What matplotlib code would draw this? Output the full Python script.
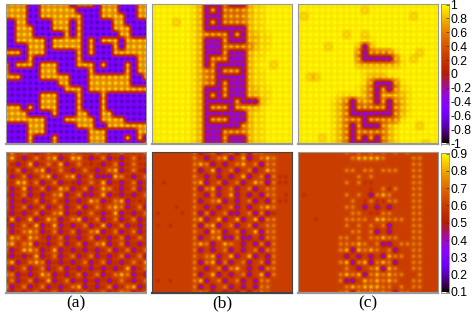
import numpy as np
import matplotlib
matplotlib.use('Agg')
import matplotlib.pyplot as plt
from matplotlib.colors import ListedColormap

# sites, one char per dot
top_a = [
"####..#####.###.###...##",
"####..######....###...##",
"####..#######...####..##",
"..##....###.#.....##....",
"..###...###.#.....###...",
"..###.....#.#......##...",
"..#####.#####.#.###.####",
"....###.#####.#...#.####",
"###.###.....#.#...######",
"....#.......#.........##",
"#.###.###...###.#...#.##",
"#.....###.....#.....#.##",
"###...#####...#######..#",
".........##...#######...",
"..........###.##########",
"......###...#...#.......",
"......###...#...#.......",
"###.#.###...#...#.......",
"####....#...##..##......",
"#######...#####.####....",
"....###.....###..#######",
"....###.......###.....##",
"....#...#.....###...#.#.",
"....#...#.....###......#",
]
top_b = [
"YYYYYYYho...-...ohhYYYYY",
"YYYYYYYho.-.----ohhYYYYY",
"YYYYYYYho...----ohhYYYYY",
"YYYYoYYho.-.----ohhYYYYY",
"YYYYYYYho.......ohhYYYYY",
"YYYYYYYho----.-.oohhYYYY",
"YYYYYYYho...-...oohhYYYY",
"YYYYYYYho...-----ohhYYYY",
"YYYYYYYho...-...ohhYYYYY",
"YYYYYYYho.---...ohhYYYYY",
"YYYYYYYho.-.....ohYYoYYY",
"YYYYYYYho--.---.ohhYYYYY",
"YYYYYYYho--.....ohhYYYYY",
"YYYYYYYho--.-...ohhYYYYY",
"YYYYYYYho...-...oohhYYYY",
"YYYYYYYho.-.-...oohhYYYY",
"YYYYYYYho.....-...ohYYYY",
"YYYYYYYho.---.-ooohYYYYY",
"YYYYYYYho.......ohhYYYYY",
"YYYYYYYho.---...ohhYYYYY",
"YYYYYYYho......-ohhYYYYY",
"YYYYYYYho...----ohhYYYYY",
"YYYYYYYho...-...ohhYYYYY",
"YYYYYYYho...-...ohhYYYYY",
]
top_c = [
"YYYYYYYYYYYYYYYYYYYYYYYY",
"YYYYYYYYYYYoYYYYYYYYYYYY",
"YoYYYYYYYYYYYYYYYYYoYYYY",
"YYYYYYYYYYYYYYYYYYYYYYYY",
"YYYYYYYYYYYYYYYYYYYYYYYY",
"YYYYYYYYoYYoYYYYYYYYYYYY",
"YYYYYYYYYYYhhYYYYYYYYYYY",
"YYYYYoYYYYo.oYYYYYYYYYYY",
"YYYYYYYYYY-.----hYYYoYYY",
"YYYYYYYYYY-.....-hYoYYYY",
"YYYYYYYYYYooooooohYYYYYY",
"YYYYYYYYYYYhhhhYYYYYYYYY",
"YYooYYYYYYYhooohhYYYYYYY",
"YYYYYYYYYYYh-...-hYYYYYY",
"YYYYYYYYYYho-.-.-hhYYYYY",
"YYYYYYYhhhYo-.oooohYYYYY",
"YYYYYYho-.-o-.-.-ohYYYYY",
"YYYYYYho-.-----.-ohYYYYY",
"YYYYYYho-.......-ohYYYYY",
"YYYYYYho---.-----hYYYYYY",
"YYYYYYho-.-...-ohYYYoYYY",
"YYYYYYho-.-----ohYYYYYYY",
"YYYYoYho-.-.-.-ohYYYYYYY",
"YYYYYYho-.....-ohYYYYoYY",
]
bot_a = [
"mymomPmomdmomdmomdmomdmo",
"oymPmomoyPmyymPmoPmPmodm",
"omPmyPmomyPmomdmPmoPmomd",
"mdoPmoyPmomPmomPmoyPmodP",
"oPmoPmoyPmoyPmoPPPyomPmo",
"mmyymoPmoPmdPmomyPmPmoPm",
"oPmyPmoPmyoPmoPmyomPmoPm",
"mPmoPmPmoyPmoPPmyPmPmPmo",
"oPmPmoPmomPmPmyoPmoyPmdm",
"oPmoPmoPmoPmoPmomoyoPmoP",
"mPmPmoPmoyPmPmomPmyPmPmo",
"PyPmyPmyoPmoyPmoPmoPmoPm",
"mPmomyPmyPmPmoPmyPmoPmPm",
"oPmoyoPmoPmoPmoyPmoPmoPm",
"myomyomPmoPmPmoPmPmoPmom",
"yymoyPmPmoPmoPmoyPmoPmPm",
"oPmyyoPmyPmPmPmPmoPmoPmo",
"mPmPmyPmoPmoPmoPmPmoPmoP",
"oyPmoyoPmPmPmoPmoPmPmomy",
"mPmoPmoPmoPmPmPmPmPmyPmo",
"yoPmPmyoPmPmoPmoPmoyoPmP",
"moPmoPmyPmoPmPmPmPmomPmo",
"yPmoPmoPmPmoyPmPmoPmoyPm",
"mPmPmoPmoPmPmoPmoPmyoPmo",
]
bot_b = [
"mmmmmmmoPmoPmoPoPoommmmm",
"mmmmmmmomPmoyPmyPmoyommm",
"mmmmmmmoyoPmPmoymoPoommm",
"mmmmmmmoPmyPmoPmoPmyommm",
"mmmmmmmomPmPmPmyPmoPoddm",
"dmdmmmmoyPmoPmoPmyoPoddm",
"mmmmmmmoPoyPmoPmoPmoommm",
"mmmmmmmomPoPmyPmPmPoomdm",
"mmmmmmmoPmoyPmPmoPmPoddm",
"mmmmdmmomPmPmoPmPmoyommm",
"mdmmmdmoPoPmoPPmoPoPdmmm",
"mmmmmmmoyPmyPmyPmyPoommm",
"mdmdmmmoPoyPmoPmoPmoommm",
"mmmmmmmomPyoPmoPmyPoommm",
"mmmmmmmoPmoyPPoPPmPoommm",
"mmmmmmmoyoPmyomPmPoPommm",
"mmmmmmmoPmPmoPmPmoPoommm",
"mmmmmmmomoyPmyPmyPmPommm",
"mmmmmmmoPoyPoPmoPmoPommm",
"mmmmmmmomPmoPoymPmPoommm",
"mmmmmmmoPmyPmPmoPmyPommm",
"mdmdmmmoyPmoPmoPmPoommmm",
"mmmmmmmoPmPmoPmPmPoommmm",
"mmmmmmmoyoPmPmPoPoyommmm",
]
bot_c = [
"mmmmmmmmomomomomomommmmm",
"mmmmmmmmmoyyyyommmmoommm",
"mmmmmmmmmmmmmmmmmmmoommm",
"mmmmmmmmoomoomooommoommm",
"mmmmmmmmmmomommmmmmoommm",
"mmmmmmmmomoddmmmmmmoommm",
"mmmmmmmmmmmmdmodommoommm",
"mdmmmmmmomomPoyommmoommm",
"mmmmmmmmmomdoddoommoommm",
"mmmmmmmmoomPmPmPmmmoommm",
"mmmmmmmmmoomddoommmoommm",
"mmmdmmmmoooomyyooomoommm",
"mmmmmmmmomomomoPmmmoommm",
"mmmmmmmmmoomoPmPmmmoommm",
"mmmmmmmoomomooyoommoommm",
"mmmmmmmoooyomoPPmoooommm",
"mmmmmmmoyPyoyomoPmmoommm",
"mmmmmmmmPmPmPmPyoomoommm",
"mmmmmmmoyPoyPoyoPmmoommm",
"mmmmmmmmomPmoyPyommoommm",
"mmmmmmmoyoyPoyoyoommommm",
"mmmmmmmoPPmyoyoyommoommm",
"mmmmmmmmoyoyyyoomomoommm",
"mmmmmmmoyPyoyoyoPoommmmm",
]

# spot value, value between spots
top_codes = {
    '#': (0.92, 0.58), '.': (-0.82, -0.48),
}
top_codes_bc = {
    'Y': (1.0, 0.92), 'h': (0.98, 0.84), 'o': (0.92, 0.7),
    '-': (0.84, 0.4), '.': (-0.48, -0.12),
}
bot_codes_a = {
    'm': (0.54, 0.6), 'd': (0.5, 0.6), 'o': (0.74, 0.61),
    'y': (0.84, 0.64), 'P': (0.28, 0.56),
}
bot_codes_bc = {
    'm': (0.6, 0.6), 'd': (0.54, 0.6), 'o': (0.74, 0.61),
    'y': (0.84, 0.64), 'P': (0.28, 0.56),
}

top_ticks = [1, 0.8, 0.6, 0.4, 0.2, 0, -0.2, -0.4, -0.6, -0.8, -1]
bot_ticks = [0.9, 0.8, 0.7, 0.6, 0.5, 0.4, 0.3, 0.2, 0.1]
panel_labels = ['(a)', '(b)', '(c)']

W = 477.
H = 313.

# gnuplot default palette 7,5,15
x = np.linspace(0, 1, 256)
cols = np.c_[np.sqrt(x), x**3, np.clip(np.sin(2*np.pi*x), 0, 1)]
cm = ListedColormap(cols)

# pixels between two dots, and the blob laid on each dot
STEP = 6
t = np.arange(-12, 13)
tri = np.clip(1 - np.abs(t)/float(STEP), 0, 1)
gau = np.exp(-t**2 / (2*1.45**2))


def smear(a, k):
    a = np.apply_along_axis(lambda v: np.convolve(v, k, mode='same'), 0, a)
    a = np.apply_along_axis(lambda v: np.convolve(v, k, mode='same'), 1, a)
    return a


def make_img(rows, codes):
    n = len(rows)
    spot = np.array([[codes[c][0] for c in r] for r in rows])
    back = np.array([[codes[c][1] for c in r] for r in rows])
    m = (n-1)*STEP + 1
    b = np.zeros((m, m))
    d = np.zeros((m, m))
    b[::STEP, ::STEP] = back
    d[::STEP, ::STEP] = spot - back
    # edge rows only get half the triangle, so scale with the same smear of ones
    w = np.zeros((m, m))
    w[::STEP, ::STEP] = 1
    return smear(b, tri) / smear(w, tri) + smear(d, gau)


def px_axes(x0, y0, x1, y1):
    return fig.add_axes([x0/W, 1-y1/H, (x1-x0)/W, (y1-y0)/H])


fig = plt.figure(figsize=(4.77, 3.13), dpi=100)

xs = [(6, 146), (152, 292), (298, 438)]
panels = [
    (top_a, top_codes, 4, 144, -1, 1, '#999999'),
    (top_b, top_codes_bc, 4, 144, -1, 1, '#999999'),
    (top_c, top_codes_bc, 4, 144, -1, 1, '#999999'),
    (bot_a, bot_codes_a, 152, 293, 0.1, 0.9, '#999999'),
    (bot_b, bot_codes_bc, 152, 293, 0.1, 0.9, '#444444'),
    (bot_c, bot_codes_bc, 152, 293, 0.1, 0.9, '#999999'),
]

for i, p in enumerate(panels):
    rows, codes, y0, y1, vmin, vmax, ec = p
    x0, x1 = xs[i % 3]
    ax = px_axes(x0, y0, x1, y1)
    ax.imshow(make_img(rows, codes), cmap=cm, vmin=vmin, vmax=vmax,
              extent=(-0.5/STEP, 23+0.5/STEP, 23+0.5/STEP, -0.5/STEP),
              interpolation='bilinear', aspect='auto')
    ax.set_xlim(0, 23)
    ax.set_ylim(23, 0)
    ax.set_xticks([])
    ax.set_yticks([])
    for s in ax.spines.values():
        s.set_color(ec)
        s.set_linewidth(0.8)
    ax.spines['bottom'].set_linewidth(1.6)
    if i >= 3:
        fig.text((x0+x1)/2/W, 1-303/H, panel_labels[i-3], family='Liberation Serif',
                 fontsize=12.5, ha='center', va='center')

# colour bars
for y0, y1, vmin, vmax, ticks in [(3.5, 144.5, -1, 1, top_ticks), (152.5, 293, 0.1, 0.9, bot_ticks)]:
    cax = px_axes(441, y0, 449, y1)
    grad = np.linspace(vmax, vmin, 256).reshape(-1, 1)
    cax.imshow(grad, cmap=cm, vmin=vmin, vmax=vmax, aspect='auto',
               extent=(0, 1, vmin, vmax))
    cax.set_xticks([])
    cax.yaxis.tick_right()
    cax.set_yticks(ticks)
    cax.set_yticklabels(['%g' % t for t in ticks], family='Liberation Sans', fontsize=8.8)
    cax.tick_params(axis='y', length=2, width=0.5, pad=1, direction='in', color='#333333')
    cax.set_ylim(vmin - (vmax-vmin)*0.008, vmax + (vmax-vmin)*0.008)
    for s in cax.spines.values():
        s.set_color('#888888')
        s.set_linewidth(0.6)

fig.savefig('out.png', dpi=100)
